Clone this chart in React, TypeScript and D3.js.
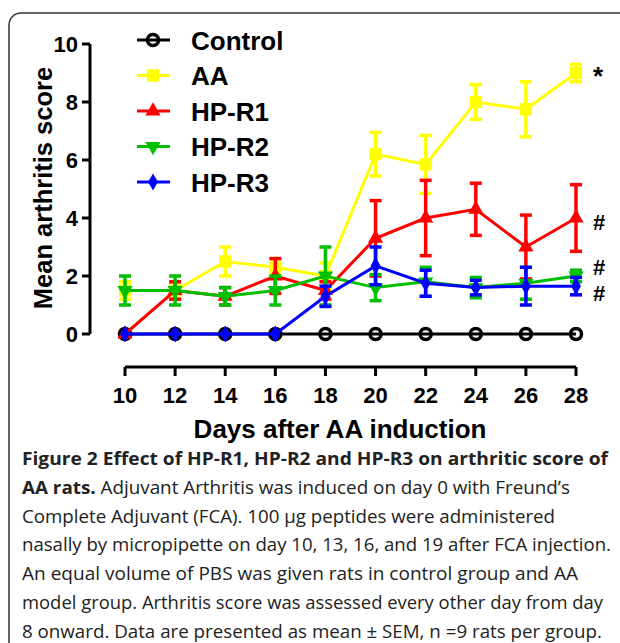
import React from "react";
import { scaleLinear, line, symbol, symbolSquare, symbolTriangle, symbolDiamond } from "d3";

// days on x axis
const days = [10, 12, 14, 16, 18, 20, 22, 24, 26, 28];
const xTicks = [10, 12, 14, 16, 18, 20, 22, 24, 26, 28];
const yTicks = [0, 2, 4, 6, 8, 10];

// mean arthritis score and SEM per group
const controlMean = [0, 0, 0, 0, 0, 0, 0, 0, 0, 0];
const controlSem = [0, 0, 0, 0, 0, 0, 0, 0, 0, 0];
const aaMean = [1.5, 1.5, 2.5, 2.3, 2.0, 6.2, 5.85, 8.0, 7.75, 9.0];
const aaSem = [0.3, 0.3, 0.5, 0.3, 0.45, 0.75, 1.0, 0.6, 0.95, 0.3];
const r1Mean = [0, 1.5, 1.3, 2.0, 1.5, 3.3, 4.0, 4.3, 3.0, 4.0];
const r1Sem = [0, 0.3, 0.3, 0.6, 0.3, 1.3, 1.3, 0.9, 1.1, 1.15];
const r2Mean = [1.5, 1.5, 1.3, 1.5, 2.0, 1.6, 1.8, 1.6, 1.75, 2.0];
const r2Sem = [0.5, 0.5, 0.3, 0.5, 1.0, 0.45, 0.5, 0.35, 0.55, 0.2];
const r3Mean = [0, 0, 0, 0, 1.3, 2.35, 1.75, 1.6, 1.65, 1.65];
const r3Sem = [0, 0, 0, 0, 0.35, 0.65, 0.45, 0.25, 0.65, 0.3];

const groups = [
  { name: "Control", mean: controlMean, sem: controlSem, color: "#000000", shape: "circle" },
  { name: "AA", mean: aaMean, sem: aaSem, color: "#FFFF00", shape: "square" },
  { name: "HP-R1", mean: r1Mean, sem: r1Sem, color: "#FF0000", shape: "triUp" },
  { name: "HP-R2", mean: r2Mean, sem: r2Sem, color: "#00BE00", shape: "triDown" },
  { name: "HP-R3", mean: r3Mean, sem: r3Sem, color: "#0000FF", shape: "diamond" },
];

// significance marks at the right end
const marks = [
  { text: "*", value: 9.0 },
  { text: "#", value: 3.85 },
  { text: "#", value: 2.3 },
  { text: "#", value: 1.4 },
];

const caption = [
  { bold: "Figure 2 Effect of HP-R1, HP-R2 and HP-R3 on arthritic score of", rest: "", w: 586 },
  { bold: "AA rats.", rest: " Adjuvant Arthritis was induced on day 0 with Freund\u2019s", w: 548 },
  { bold: "", rest: "Complete Adjuvant (FCA). 100 \u03bcg peptides were administered", w: 533 },
  { bold: "", rest: "nasally by micropipette on day 10, 13, 16, and 19 after FCA injection.", w: 589 },
  { bold: "", rest: "An equal volume of PBS was given rats in control group and AA", w: 556 },
  { bold: "", rest: "model group. Arthritis score was assessed every other day from day", w: 581 },
  { bold: "", rest: "8 onward. Data are presented as mean \u00b1 SEM, n =9 rats per group.", w: 580 },
];

const FONT = "'Liberation Sans', Arial, sans-serif";

function Marker({ shape, color, x, y }: { shape: string; color: string; x: number; y: number }) {
  if (shape === "circle") {
    return <circle cx={x} cy={y} r={5.5} fill="none" stroke={color} strokeWidth={3.5} />;
  }
  let d = "";
  let rot = 0;
  if (shape === "square") d = symbol(symbolSquare, 150)() as string;
  if (shape === "triUp") d = symbol(symbolTriangle, 100)() as string;
  if (shape === "triDown") { d = symbol(symbolTriangle, 100)() as string; rot = 180; }
  if (shape === "diamond") d = symbol(symbolDiamond, 85)() as string;
  return <path d={d} transform={`translate(${x},${y}) rotate(${rot})`} fill={color} />;
}

export default function App() {
  const x = scaleLinear().domain([10, 28]).range([125, 576]);
  const y = scaleLinear().domain([0, 10]).range([334, 44]);
  const lineGen = line<number>().x((_, i) => x(days[i])).y((d) => y(d));

  return (
    <svg width={620} height={643} style={{ position: "absolute", left: 0, top: 0, background: "#fff" }}>
      {/* frame */}
      <rect x={9} y={13} width={640} height={680} rx={12} fill="none" stroke="#333" strokeWidth={1.5} />

      {/* y axis */}
      <line x1={90} x2={90} y1={y(10)} y2={y(0)} stroke="#000" strokeWidth={3} />
      {yTicks.map((t) => (
        <g key={t}>
          <line x1={82} x2={90} y1={y(t)} y2={y(t)} stroke="#000" strokeWidth={3} />
          <text x={78} y={y(t) + 8} textAnchor="end" fontFamily={FONT} fontWeight="bold" fontSize={22}>{t}</text>
        </g>
      ))}
      <text transform={`translate(52,188) rotate(-90)`} textAnchor="middle" fontFamily={FONT} fontWeight="bold" fontSize={25.5}>
        Mean arthritis score
      </text>

      {/* x axis */}
      <line x1={x(10)} x2={x(28)} y1={367} y2={367} stroke="#000" strokeWidth={3} />
      {xTicks.map((t) => (
        <g key={t}>
          <line x1={x(t)} x2={x(t)} y1={367} y2={376} stroke="#000" strokeWidth={3} />
          <text x={x(t)} y={403} textAnchor="middle" fontFamily={FONT} fontWeight="bold" fontSize={22}>{t}</text>
        </g>
      ))}
      <text x={340} y={438} textAnchor="middle" fontFamily={FONT} fontWeight="bold" fontSize={26}>
        Days after AA induction
      </text>

      {/* series */}
      {groups.map((g) => (
        <g key={g.name}>
          <path d={lineGen(g.mean) as string} fill="none" stroke={g.color} strokeWidth={3} />
          {g.mean.map((m, i) =>
            g.sem[i] > 0 ? (
              <g key={i} stroke={g.color} strokeWidth={3.5}>
                <line x1={x(days[i])} x2={x(days[i])} y1={y(m - g.sem[i])} y2={y(m + g.sem[i])} />
                <line x1={x(days[i]) - 6} x2={x(days[i]) + 6} y1={y(m + g.sem[i])} y2={y(m + g.sem[i])} />
                <line x1={x(days[i]) - 6} x2={x(days[i]) + 6} y1={y(m - g.sem[i])} y2={y(m - g.sem[i])} />
              </g>
            ) : null
          )}
          {g.mean.map((m, i) => (
            <Marker key={"m" + i} shape={g.shape} color={g.color} x={x(days[i])} y={y(m)} />
          ))}
        </g>
      ))}

      {/* significance marks */}
      {marks.map((mk, i) => (
        <text key={i} x={593} y={y(mk.value) + (mk.text === "*" ? 12 : 8)} fontFamily={FONT} fontSize={mk.text === "*" ? 26 : 22} fontWeight="bold">
          {mk.text}
        </text>
      ))}

      {/* legend */}
      {groups.map((g, i) => {
        const ly = 40 + i * 35.5;
        return (
          <g key={"l" + g.name}>
            <line x1={137} x2={170} y1={ly} y2={ly} stroke={g.color} strokeWidth={3} />
            <Marker shape={g.shape} color={g.color} x={153} y={ly} />
            <text x={191} y={ly + 9.5} fontFamily={FONT} fontWeight="bold" fontSize={26}>{g.name}</text>
          </g>
        );
      })}

      {/* caption */}
      {caption.map((c, i) => (
        <text key={"c" + i} x={22} y={465 + i * 28.8} fontFamily="'Open Sans', sans-serif" fontSize={18} fill="#222"
          textLength={c.w} lengthAdjust="spacingAndGlyphs">
          {c.bold && <tspan fontWeight="bold">{c.bold}</tspan>}
          {c.rest}
        </text>
      ))}
    </svg>
  );
}
